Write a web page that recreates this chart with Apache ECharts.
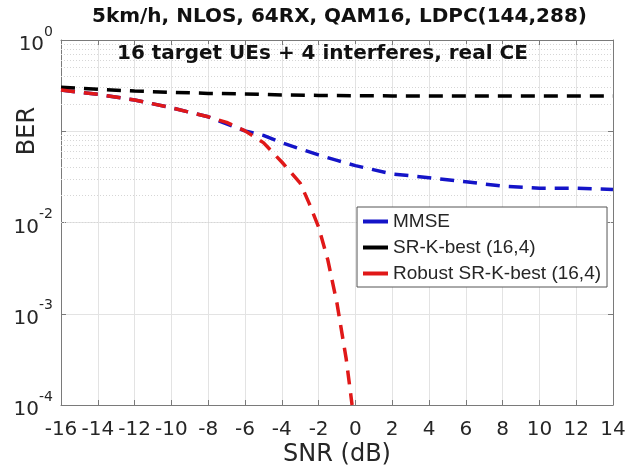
<!DOCTYPE html>
<html><head><meta charset="utf-8">
<script src="https://cdn.jsdelivr.net/npm/echarts@6/dist/echarts.min.js"></script>
<style>html,body{margin:0;padding:0;background:#fff}#c{width:644px;height:474px}</style>
</head><body><div id="c"></div>
<script>
const snrMMSE = [-16,-14,-12,-10,-8,-6,-5,-4,-3,-2,-1,0,2,4,6,8,10,12,14];
const berMMSE = [0.283,0.254,0.22,0.181,0.144,0.101,0.09,0.075,0.064,0.055,0.048,0.042,0.034,0.031,0.028,0.025,0.0238,0.0238,0.023];
const snrSR = [-16,-14,-12,-10,-8,-6,-4,-2,0,2,4,6,8,10,12,14];
const berSR = [0.303,0.288,0.276,0.267,0.26,0.256,0.25,0.247,0.245,0.244,0.243,0.243,0.243,0.243,0.243,0.243];
const snrRobust = [-16,-14,-12,-10,-8,-7,-6,-5,-4,-3,-2.5,-2,-1.5,-1,-0.5,-0.18];
const berRobust = [0.283,0.254,0.22,0.181,0.144,0.125,0.101,0.075,0.046,0.027,0.016,0.0089,0.0039,0.0013,0.00032,0.0001];
const seriesNames = ['MMSE', 'SR-K-best (16,4)', 'Robust SR-K-best (16,4)'];
const seriesColors = ['#1414c8', '#000000', '#e01818'];
const hiddenExponents = [-1];
const decades = [-4, -3, -2, -1];
const minorMantissas = [2, 3, 4, 5, 6, 7, 8, 9];

const FONT = "'DejaVu Sans', sans-serif";
const LFONT = "'Liberation Sans', Arial, sans-serif";
const TXT = '#262626';
const AX = '#7a7a7a';
const pair = (xs, ys) => xs.map((x, i) => [x, ys[i]]);
const minorVals = [];
decades.forEach(d => minorMantissas.forEach(m => minorVals.push(m * Math.pow(10, d))));

const legendRich = {t: {fontFamily: LFONT, fontSize: 19, color: TXT, lineHeight: 21, padding: [0, 0, 0, 5]}};
seriesColors.forEach((c, i) => { legendRich['i' + i] = {width: 25, height: 4, backgroundColor: c}; });

const chart = echarts.init(document.getElementById('c'), null, {renderer: 'canvas'});
const lineSeries = (name, xs, ys, color) => ({
  name, type: 'line', data: pair(xs, ys), showSymbol: false, symbol: 'none',
  xAxisIndex: 0, yAxisIndex: 0, z: 3,
  lineStyle: {color, width: 3.5, type: [14, 9], cap: 'butt'},
  itemStyle: {color}
});
chart.setOption({
  animation: false,
  backgroundColor: '#fff',
  textStyle: {fontFamily: FONT},
  title: [
    {text: '5km/h, NLOS, 64RX, QAM16, LDPC(144,288)', left: 92, top: 7, padding: 0,
     textStyle: {fontFamily: FONT, fontWeight: 'bold', fontSize: 20, color: '#111'}},
    {text: '16 target UEs + 4 interferes, real CE', left: 117, top: 44, padding: 0,
     textStyle: {fontFamily: FONT, fontWeight: 'bold', fontSize: 20, color: '#111'}}
  ],
  graphic: [
    {type: 'text', x: 28, y: 131, rotation: Math.PI / 2,
     style: {text: 'BER', font: "24px 'DejaVu Sans'", fill: TXT, align: 'center', verticalAlign: 'middle'}}
  ],
  grid: {left: 61, right: 31, top: 40, bottom: 69, containLabel: false, outerBoundsMode: 'none'},
  legend: {
    data: seriesNames, z: 10,
    orient: 'vertical', left: 357, top: 207,
    padding: [4, 6, 3, 0], itemGap: 5, itemWidth: 1, itemHeight: 1,
    icon: 'path://M0,0H1V1H0Z', itemStyle: {color: 'rgba(0,0,0,0)', borderWidth: 0},
    formatter: name => '{i' + seriesNames.indexOf(name) + '|}{t|' + name + '}',
    backgroundColor: '#fff', borderColor: '#555', borderWidth: 1, borderRadius: 0,
    textStyle: {fontFamily: LFONT, fontSize: 19, color: TXT, lineHeight: 21, rich: legendRich}
  },
  xAxis: [
    {type: 'value', min: -16, max: 14, interval: 2, position: 'bottom',
     name: 'SNR (dB)', nameLocation: 'middle', nameGap: 38, nameMoveOverlap: false,
     nameTextStyle: {fontFamily: FONT, fontSize: 24, color: TXT},
     axisLine: {show: true, onZero: false, lineStyle: {color: AX, width: 1}},
     axisTick: {show: true, inside: true, length: 5, lineStyle: {color: AX}},
     axisLabel: {fontFamily: FONT, fontSize: 20, color: TXT, margin: 15, hideOverlap: false},
     splitLine: {show: true, lineStyle: {color: '#e3e3e3', width: 1}}},
    {type: 'value', min: -16, max: 14, interval: 2, position: 'top',
     axisLine: {show: true, onZero: false, lineStyle: {color: AX, width: 1}},
     axisTick: {show: true, inside: true, length: 5, lineStyle: {color: AX}},
     axisLabel: {show: false}, splitLine: {show: false}}
  ],
  yAxis: [
    {type: 'log', logBase: 10, min: 0.0001, max: 1, position: 'left',
     axisLine: {show: true, onZero: false, lineStyle: {color: AX, width: 1}},
     axisTick: {show: true, inside: true, length: 5, lineStyle: {color: AX}},
     axisLabel: {
       margin: 8,
       formatter: v => {
         const e = Math.round(Math.log10(v));
         return hiddenExponents.includes(e) ? '' : '{b|10}{s|' + e + '}';
       },
       rich: {
         b: {fontFamily: FONT, fontSize: 20, color: TXT, verticalAlign: 'bottom', padding: [10, 0, 0, 0]},
         s: {fontFamily: FONT, fontSize: 14, color: TXT, verticalAlign: 'top', padding: [0, 0, 10, 0]}
       }
     },
     splitLine: {show: true, lineStyle: {color: '#e3e3e3', width: 1}}},
    {type: 'log', logBase: 10, min: 0.0001, max: 1, position: 'right',
     axisLine: {show: true, onZero: false, lineStyle: {color: AX, width: 1}},
     axisTick: {show: true, inside: true, length: 5, lineStyle: {color: AX}},
     axisLabel: {show: false}, splitLine: {show: false}}
  ],
  series: [
    {name: 'minor-grid', type: 'line', data: [], xAxisIndex: 0, yAxisIndex: 0, z: 1, silent: true,
     markLine: {z: 1, silent: true, symbol: 'none', animation: false, label: {show: false},
       lineStyle: {color: '#d6d6d6', type: [1, 2], width: 1},
       data: minorVals.map(v => ({yAxis: v}))}},
    lineSeries(seriesNames[0], snrMMSE, berMMSE, seriesColors[0]),
    lineSeries(seriesNames[1], snrSR, berSR, seriesColors[1]),
    lineSeries(seriesNames[2], snrRobust, berRobust, seriesColors[2])
  ]
});
</script></body></html>
